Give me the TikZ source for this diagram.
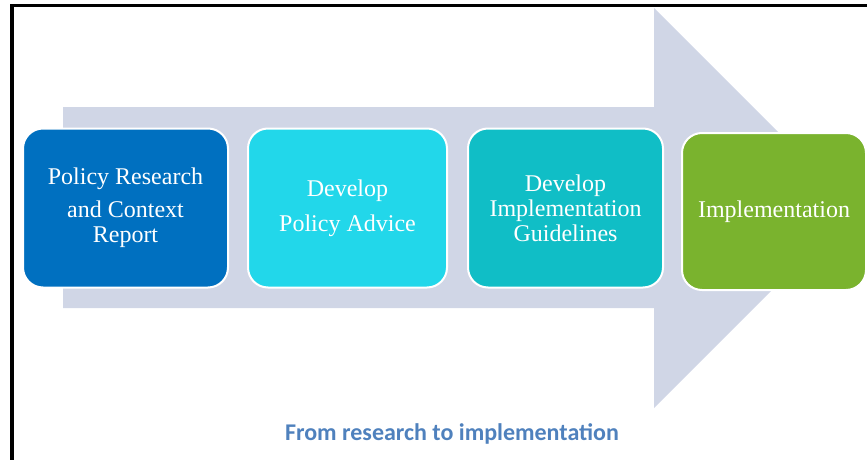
\documentclass[tikz,border=0pt]{standalone}
\usepackage{fontspec}
\setmainfont{Liberation Serif}
\newfontfamily\capfont{Carlito}
\usepackage{xcolor}
\usepackage{tikz}
\usetikzlibrary{positioning, calc}
\definecolor{stepA}{RGB}{0,112,192}
\definecolor{stepB}{RGB}{34,215,234}
\definecolor{stepC}{RGB}{16,190,198}
\definecolor{stepD}{RGB}{122,179,46}
\definecolor{flowgray}{RGB}{208,214,230}
\definecolor{capblue}{RGB}{79,129,189}

\begin{document}
\begin{tikzpicture}[
    x=1pt,y=-1pt,
    stage/.style={draw=white,line width=2pt,rounded corners=20pt,
      minimum height=159pt,text=white,align=center,
      font=\fontsize{24}{25}\selectfont},
    frame/.style={line width=3.8pt,line join=miter}
  ]
  \useasboundingbox (0,0) rectangle (867,460);

  % big flow arrow behind the stages
  \fill[flowgray] (63,107) -- (654,107) -- (654,8) -- (854,208)
    -- (654,408) -- (654,308) -- (63,308) -- cycle;

  % stages
  \node[stage,fill=stepA,minimum width=205pt] (research) at (125.5,208)
    {Policy Research\\[8pt] and Context\\ Report};
  \node[stage,fill=stepB,minimum width=199pt] (advice) at (347.5,208)
    {Develop\\[10pt] Policy Advice};
  \node[stage,fill=stepC,minimum width=195pt] (guide) at (565.5,208)
    {Develop\\ Implementation\\ Guidelines};
  \node[stage,fill=stepD,minimum width=184pt,minimum height=157pt] (impl) at (774,211.5)
    {Implementation};

  % caption
  \node[font=\capfont\bfseries\fontsize{24}{26}\selectfont,text=capblue] (cap) at (452,434)
    {From research to implementation};

  % frame edges
  \draw[frame] (12,460) -- (12,5.5) -- (867,5.5);
\end{tikzpicture}
\end{document}
